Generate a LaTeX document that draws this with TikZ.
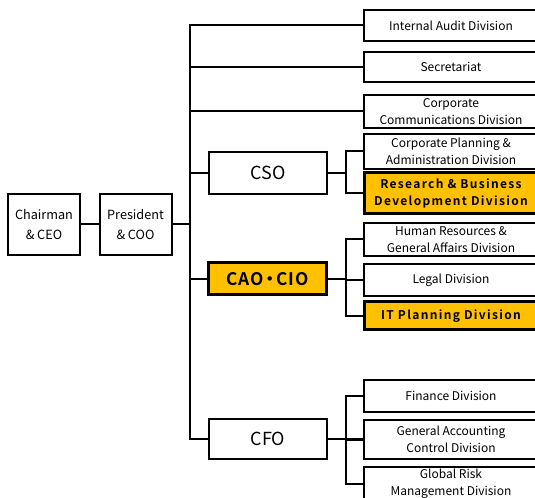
\documentclass[tikz,border=0pt]{standalone}
\usepackage{fontspec}
\setmainfont{Noto Sans CJK JP}[BoldFont={* Bold}]
\definecolor{gold}{RGB}{255,192,0}
\tikzset{every picture/.style={line width=1.5pt}}
\tikzset{
  box/.style={draw, line width=1.5pt, inner sep=0pt, align=center},
  divbox/.style={box, minimum width=130.5pt, font=\fontsize{9}{12.75}\selectfont},
  keybox/.style={divbox, fill=gold, line width=2.25pt, font=\fontsize{9}{13}\selectfont\bfseries\addfontfeature{LetterSpace=11}},
  execbox/.style={box, minimum width=88.5pt, font=\fontsize{13.5}{16}\selectfont},
  topbox/.style={box, minimum width=54pt, minimum height=45.75pt, font=\fontsize{9.5}{15}\selectfont}
}

\begin{document}
\begin{tikzpicture}[x=0.75pt,y=0.75pt,yscale=-1,xscale=1]
\useasboundingbox (0,0) rectangle (535,498);
\clip (0,0) rectangle (535,498);

%Top
\node[topbox] (ceo) at (44,224.5) {Chairman\\\& CEO};
\node[topbox] (pres) at (135.5,224.5) {President\\\& COO};

%Officers
\node[execbox, minimum height=31.5pt] (cso) at (268,173) {CSO};
\node[execbox, minimum height=24pt, fill=gold, line width=2.25pt, font=\fontsize{13}{16}\selectfont\bfseries\addfontfeature{LetterSpace=6}] (cao) at (267.5,279) {CAO\kern-2pt・\kern-2pt CIO};
\node[execbox, minimum height=30pt] (cfo) at (268,439) {CFO};

%Divisions
\node[divbox, minimum height=23.25pt] (audit) at (451,25.5) {Internal Audit Division};
\node[divbox, minimum height=22.5pt] (secr) at (451,67) {Secretariat};
\node[divbox, minimum height=24.75pt] (comm) at (451,111.5) {Corporate\\Communications Division};
\node[divbox, minimum height=26.25pt] (plan) at (451,151.5) {Corporate Planning \&\\Administration Division};
\node[keybox, minimum height=30.75pt] (rbd) at (451,193.5) {Research \& Business\\Development Division};
\node[divbox, minimum height=24.75pt] (hr) at (451,239.5) {Human Resources \&\\General Affairs Division};
\node[divbox, minimum height=24pt] (legal) at (451,280) {Legal Division};
\node[keybox, minimum height=21pt] (itp) at (451,316) {IT Planning Division};
\node[divbox, minimum height=24pt] (fin) at (451,396) {Finance Division};
\node[divbox, minimum height=29.25pt] (gac) at (451,439.5) {General Accounting\\Control Division};
\node[divbox, minimum height=25.5pt] (grm) at (451,484) {Global Risk\\Management Division};

%Buses
\coordinate (trunk) at (190,224.5);
\coordinate (csobus) at (346,173);
\coordinate (caobus) at (346,279);
\coordinate (cfobus) at (346,439);

%Straight Lines
\draw (ceo) -- (pres);
\draw (pres) -- (trunk);
\foreach \n in {audit,secr,comm,cso,cao,cfo}
  \draw (trunk) |- (\n.west);
\draw (cso) -- (csobus);
\foreach \n in {plan,rbd}
  \draw (csobus) |- (\n.west);
\draw (cao) -- (caobus);
\foreach \n in {hr,legal,itp}
  \draw (caobus) |- (\n.west);
\draw (cfo) -- (cfobus);
\foreach \n in {fin,gac,grm}
  \draw (cfobus) |- (\n.west);

\end{tikzpicture}
\end{document}
